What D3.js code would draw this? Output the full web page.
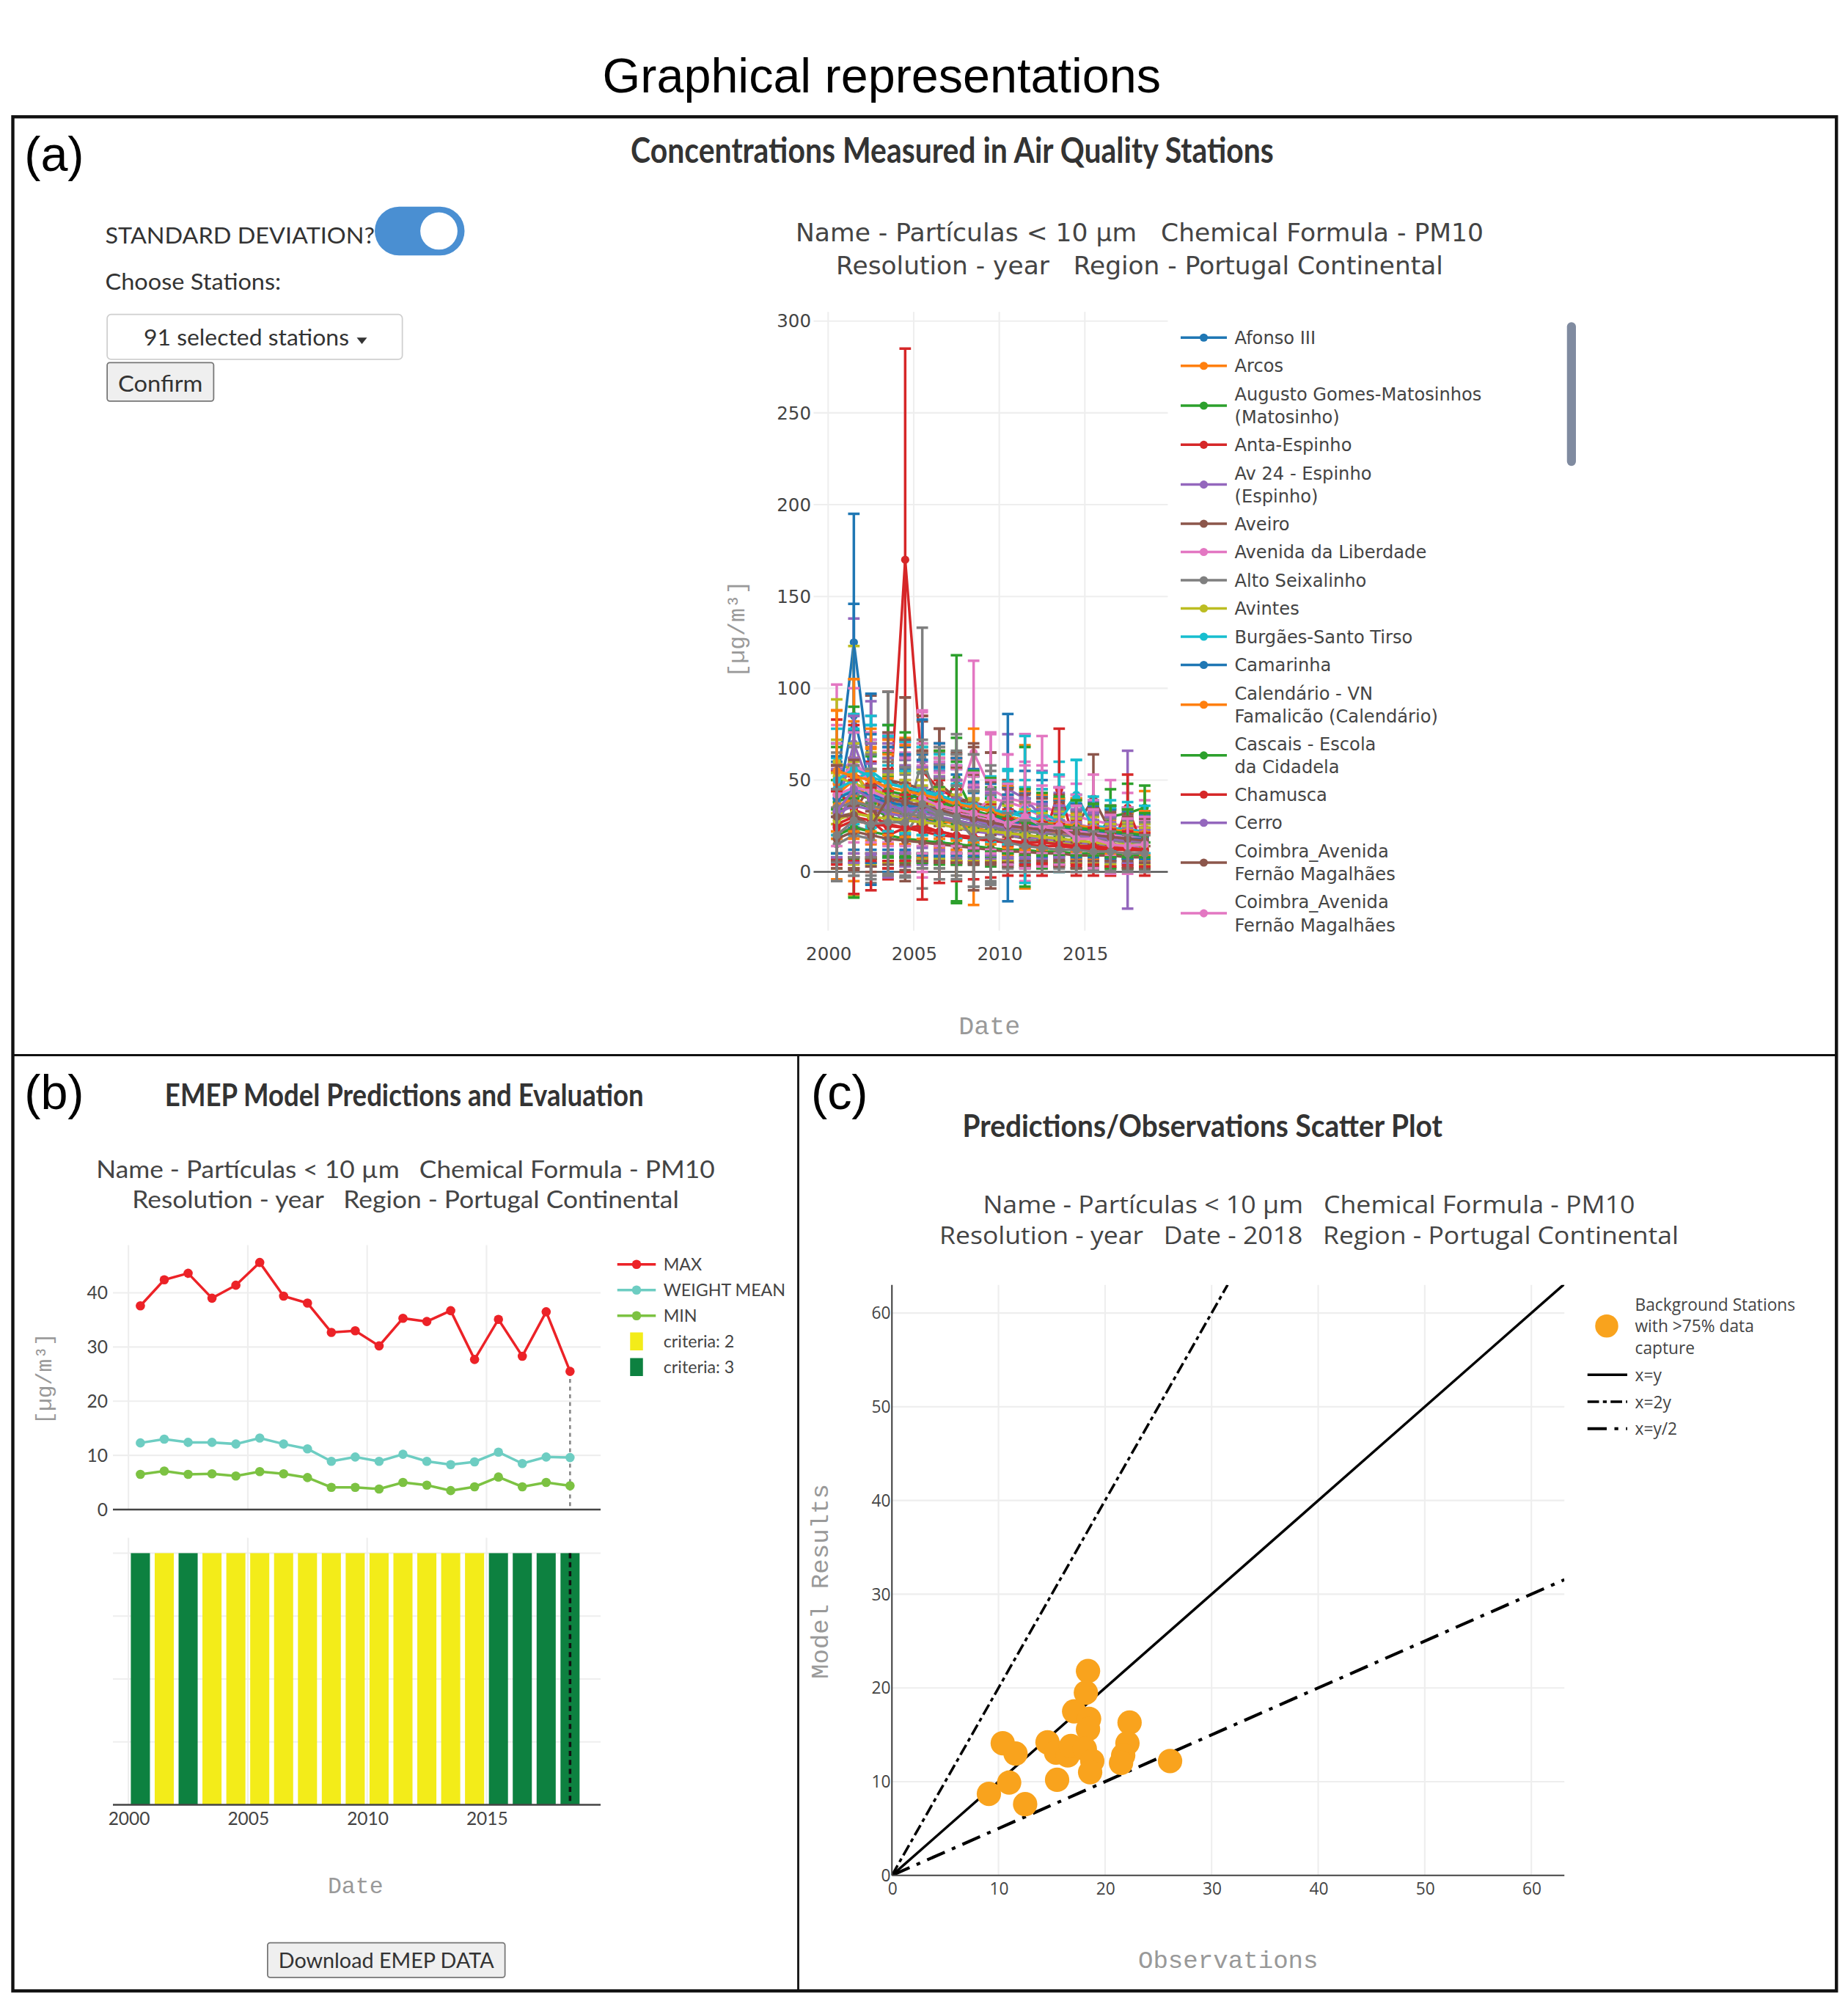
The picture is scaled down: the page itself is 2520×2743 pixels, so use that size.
<!DOCTYPE html>
<html><head><meta charset="utf-8">
<script src="https://cdn.jsdelivr.net/npm/d3@7/dist/d3.min.js"></script>
<style>
html,body{margin:0;padding:0;background:#fff;}
svg{display:block;}
text{white-space:pre;}
</style></head><body>
<svg id="c" width="2520" height="2743" viewBox="0 0 1440 1567.43"></svg>
<script>
// ---------------- DATA ----------------
const years = [2000,2001,2002,2003,2004,2005,2006,2007,2008,2009,2010,2011,2012,2013,2014,2015,2016,2017,2018];
const palette = ["#1f77b4","#ff7f0e","#2ca02c","#d62728","#9467bd","#8c564b","#e377c2","#7f7f7f","#bcbd22","#17becf"];

const stationNames = [
 "Afonso III","Arcos","Augusto Gomes-Matosinhos<br>(Matosinho)","Anta-Espinho","Av 24 - Espinho<br>(Espinho)",
 "Aveiro","Avenida da Liberdade","Alto Seixalinho","Avintes","Burgães-Santo Tirso","Camarinha",
 "Calendário - VN<br>Famalicão (Calendário)","Cascais - Escola<br>da Cidadela","Chamusca","Cerro",
 "Coimbra_Avenida<br>Fernão Magalhães","Coimbra_Avenida<br>Fernão Magalhães",
 "Coimbra_Instituto Geofísico","Custóias-Matosinhos","Entrecampos","Ermesinde-Valongo","Estarreja",
 "Fornelo do Monte","Fundão","Ílhavo","Lamas de Olo","Laranjeiro","Loures","Mem Martins",
 "Mouzinho de Albuquerque","Olivais","Paio Pires","Reboleira","Restelo","Santo Tirso","Sobreiras",
 "Teixugueira","Vermoim"
];
const stationMeans = [
 [45,125,50,42,38,40,36,33,30,28,26,25,24,22,20,19,18,17,18],
 [48,55,42,40,38,36,34,30,28,26,24,23,22,21,20,19,18,18,17],
 [38,42,40,37,35,33,30,51,32,28,26,25,24,22,21,20,19,18,17],
 [30,40,35,22,170,55,45,40,35,33,30,28,27,26,24,23,22,21,20],
 [33,70,45,40,36,38,35,30,28,25,45,40,30,25,22,20,18,23,20],
 [30,32,48,50,45,42,48,40,38,35,30,28,27,26,25,40,22,20,19],
 [55,60,50,45,40,42,38,36,65,45,40,38,36,32,30,28,26,25,24],
 [20,25,22,30,25,62,35,32,28,25,22,20,18,17,16,15,14,14,13],
 [60,55,40,35,32,30,28,26,24,22,20,18,17,16,15,14,13,13,12],
 [40,45,42,38,35,32,36,30,28,26,30,28,25,30,42,24,22,21,20],
 [35,85,45,40,38,36,34,32,30,28,35,30,28,26,24,22,21,20,19],
 [42,50,38,36,40,38,36,34,30,28,26,30,22,21,20,19,18,17,22],
 [30,38,35,30,28,30,26,28,26,24,22,30,19,18,17,16,30,32,35],
 [45,34,30,26,24,25,22,20,18,17,16,15,14,45,13,12,12,35,11],
 [25,45,48,35,33,32,30,28,26,24,22,20,19,18,17,16,15,14,13],
 [30,30,25,50,48,45,40,34,30,28,26,25,24,23,22,21,20,19,18],
 [50,58,48,42,40,44,36,34,32,40,38,35,30,28,26,24,22,21,20],
 [15,20,18,48,20,35,30,40,28,26,20,18,16,15,14,13,12,12,11],
 [52,48,45,42,40,38,36,34,32,30,28,26,24,22,21,20,19,18,17],
 [45,50,55,48,46,44,40,38,35,33,30,34,32,28,40,25,24,23,22],
 [40,44,42,40,38,45,42,38,34,30,28,26,25,24,23,22,21,20,19],
 [36,40,35,33,31,30,28,26,24,22,21,20,19,18,17,16,15,14,14],
 [20,24,22,20,18,17,16,15,14,13,12,12,11,11,10,10,10,9,9],
 [26,30,28,20,24,22,20,19,18,17,16,15,14,14,13,13,12,12,12],
 [32,36,34,32,30,28,26,24,22,21,20,19,18,17,16,15,15,14,14],
 [18,22,20,18,17,16,15,14,13,12,11,11,10,10,9,9,9,8,8],
 [42,46,44,40,38,36,34,32,30,28,26,25,24,23,22,21,20,19,18],
 [35,38,36,34,32,30,29,27,25,24,23,22,21,20,19,18,17,16,16],
 [28,32,30,29,28,27,26,24,23,22,21,20,19,18,17,16,15,15,14],
 [50,56,52,48,46,44,42,38,36,34,32,30,28,26,25,24,23,22,21],
 [null,null,40,38,36,35,33,31,29,27,25,24,23,22,21,20,19,18,18],
 [55,52,50,46,44,42,40,37,35,33,30,28,27,26,25,24,23,22,21],
 [null,null,null,44,42,40,38,35,33,31,29,27,26,25,24,23,22,21,20],
 [24,28,26,25,24,23,22,20,19,18,17,16,16,15,14,14,13,13,12],
 [33,45,40,36,34,35,32,30,28,26,24,24,22,22,20,19,18,17,17],
 [30,31,25,40,38,36,34,31,29,27,25,24,23,22,21,20,19,18,17],
 [null,null,null,null,null,40,36,34,32,30,26,30,25,25,18,18,15,14,15],
 [20,28,26,27,27,37,32,30,18,19,16,14,13,12,12,11,11,10,10]
];
const stationSD = [
 [15,70,30,20,18,16,15,14,13,12,12,11,10,10,9,8,8,8,8],
 [40,50,25,30,35,28,25,20,18,16,15,14,13,12,12,11,10,10,10],
 [30,35,30,28,26,24,22,67,20,18,16,15,14,13,12,12,11,11,10],
 [25,30,25,20,115,30,25,22,20,18,16,15,15,14,13,12,12,11,11],
 [25,68,40,30,25,28,24,20,18,16,30,35,25,18,14,12,12,43,12],
 [28,30,48,48,50,40,30,25,30,30,20,18,18,16,15,24,14,12,12],
 [47,40,35,30,30,45,30,25,50,30,24,22,38,20,18,25,24,18,15],
 [25,25,28,32,28,71,30,34,36,30,20,18,16,15,14,13,12,12,11],
 [34,68,30,25,22,20,18,16,15,14,12,12,11,10,10,9,9,9,8],
 [22,25,22,20,20,22,20,18,16,15,25,22,20,30,19,15,14,14,13],
 [28,61,52,40,30,28,26,24,22,20,51,25,22,20,18,16,15,15,14],
 [46,55,30,28,32,30,30,28,48,22,20,39,18,16,20,15,16,15,22],
 [20,52,28,22,20,24,20,45,18,16,15,38,14,13,12,12,15,16,12],
 [38,46,40,30,24,40,28,25,22,20,18,17,16,33,15,14,14,18,13],
 [20,40,45,38,30,28,25,22,22,20,18,16,15,14,13,12,12,11,10],
 [28,28,20,48,47,40,38,30,40,37,20,18,17,16,15,14,13,12,12],
 [30,28,28,26,25,44,24,22,20,36,26,40,28,18,16,15,14,14,13],
 [20,22,20,50,22,30,28,35,36,32,18,16,14,13,12,12,11,11,10],
 [20,22,20,20,18,18,16,16,14,14,13,12,12,11,10,10,10,9,9],
 [25,28,30,26,25,24,22,20,20,18,26,40,22,25,21,16,15,15,14],
 [30,32,30,28,26,38,28,24,22,20,18,17,16,15,14,14,13,13,12],
 [18,22,20,18,16,16,15,14,13,12,12,11,11,10,10,9,9,9,8],
 [14,16,15,14,13,12,12,11,10,10,9,9,9,8,8,8,8,7,7],
 [18,22,20,18,16,15,14,13,12,12,11,11,10,10,10,9,9,9,9],
 [24,26,25,22,20,18,17,16,15,14,13,12,12,11,11,10,10,10,9],
 [12,14,13,12,11,10,10,9,9,8,8,8,7,7,7,6,6,6,6],
 [28,30,28,26,24,22,20,18,17,16,15,14,14,13,12,12,11,11,10],
 [30,30,28,26,25,24,22,20,19,18,17,16,15,14,14,13,12,12,11],
 [26,28,26,24,22,20,19,18,17,16,15,14,13,12,12,11,11,10,10],
 [28,30,28,26,25,24,22,20,19,18,17,16,15,14,14,13,12,12,11],
 [null,null,35,30,28,26,24,22,20,18,17,16,15,14,13,12,12,11,11],
 [33,30,28,26,25,24,22,20,19,18,17,16,15,14,14,13,13,12,12],
 [null,null,null,36,34,30,28,25,22,20,19,18,17,16,15,14,14,13,12],
 [20,22,20,19,18,17,16,15,14,13,12,12,11,11,10,10,10,9,9],
 [25,40,30,26,24,22,20,20,18,17,16,16,15,14,14,13,12,12,12],
 [28,30,22,36,34,30,28,26,24,22,20,18,17,16,15,14,13,12,12],
 [null,null,null,null,null,30,26,24,22,20,22,28,22,21,18,16,16,15,15],
 [25,30,30,28,30,35,36,34,26,26,16,14,13,12,12,11,11,10,10]
];
const legendCountA = 17;
const yTicksA = [0,50,100,150,200,250,300];
const xTicksYears = [2000,2005,2010,2015];

const emepMax  = [37.6,42.4,43.6,39.0,41.4,45.6,39.4,38.1,32.7,33.0,30.2,35.3,34.7,36.7,27.7,35.1,28.3,36.5,25.5];
const emepMean = [12.3,13.0,12.4,12.4,12.1,13.2,12.1,11.2,8.9,9.7,8.9,10.2,8.9,8.3,8.8,10.6,8.5,9.7,9.6];
const emepMin  = [6.5,7.1,6.5,6.6,6.2,7.0,6.6,5.9,4.1,4.1,3.8,5.0,4.5,3.5,4.2,6.0,4.2,5.0,4.4];
const emepCriteria = [3,2,3,2,2,2,2,2,2,2,2,2,2,2,2,3,3,3,3];
const yTicksB = [0,10,20,30,40];
const barGridB = [0.25,0.5,0.75,1];

const scatterObs   = [9.1,10.4,11.6,11.0,12.5,14.6,15.4,15.5,16.5,16.8,17.1,18.4,18.2,18.5,18.4,18.1,18.8,18.6,22.3,22.1,21.7,21.5,26.1];
const scatterModel = [8.7,14.1,13.0,9.9,7.6,14.2,13.1,10.2,12.8,13.8,17.5,21.8,19.5,16.7,15.6,13.5,12.2,11.0,16.3,14.1,12.8,12.0,12.2];
const ticksC = [0,10,20,30,40,50,60];

// ---------------- HELPERS ----------------
const svg = d3.select("#c");
const F_UI = "Lato, 'Open Sans', sans-serif";
const F_A = "'DejaVu Sans', Verdana, sans-serif";
const F_C = "'Open Sans', 'DejaVu Sans', sans-serif";
const F_MONO = "'Liberation Mono', 'DejaVu Sans Mono', monospace";
const F_ARIAL = "'Liberation Sans', Arial, sans-serif";

function txt(g, s, x, y, o = {}) {
  const t = g.append("text").attr("x", x).attr("y", y).text(s)
    .attr("font-family", o.f || F_UI).attr("font-size", o.s || 14)
    .attr("fill", o.c || "#333").attr("text-anchor", o.a || "start");
  if (o.w) t.attr("font-weight", o.w);
  if (o.len) t.attr("textLength", o.len).attr("lengthAdjust", "spacingAndGlyphs");
  if (o.rot) t.attr("transform", `rotate(${o.rot},${x},${y})`);
  if (o.ls) t.attr("letter-spacing", o.ls);
  return t;
}
function styleAxis(g, font, size, color) {
  g.select(".domain").remove();
  g.selectAll("line").remove();
  g.selectAll("text").attr("font-family", font).attr("font-size", size).attr("fill", color);
}

// ---------------- FRAME ----------------
svg.append("rect").attr("width", 1440).attr("height", 1567.43).attr("fill", "#fff");
txt(svg, "Graphical representations", 687, 72, {f: F_ARIAL, s: 38, c: "#000", a: "middle"});
svg.append("rect").attr("x", 10).attr("y", 91).attr("width", 1421).attr("height", 1460)
  .attr("fill", "none").attr("stroke", "#111").attr("stroke-width", 2.5);
svg.append("line").attr("x1", 10).attr("x2", 1431).attr("y1", 822).attr("y2", 822).attr("stroke", "#111").attr("stroke-width", 1.6);
svg.append("line").attr("x1", 622).attr("x2", 622).attr("y1", 822).attr("y2", 1551).attr("stroke", "#111").attr("stroke-width", 1.6);
txt(svg, "(a)", 19, 133, {f: F_ARIAL, s: 38, c: "#000"});
txt(svg, "(b)", 19, 864, {f: F_ARIAL, s: 38, c: "#000"});
txt(svg, "(c)", 632, 864, {f: F_ARIAL, s: 38, c: "#000"});

// ---------------- PANEL A ----------------
const A = svg.append("g");
txt(A, "Concentrations Measured in Air Quality Stations", 742, 127, {s: 27, w: 700, c: "#333", a: "middle", len: 501});
txt(A, "STANDARD DEVIATION?", 82, 190, {s: 18, c: "#333", len: 210});
A.append("rect").attr("x", 292).attr("y", 161).attr("width", 70).attr("height", 38).attr("rx", 19).attr("fill", "#4a8fd2");
A.append("circle").attr("cx", 342).attr("cy", 180).attr("r", 14.5).attr("fill", "#fff");
txt(A, "Choose Stations:", 82, 226, {s: 18, c: "#333", len: 137});
A.append("rect").attr("x", 83.5).attr("y", 245).attr("width", 230).attr("height", 35).attr("rx", 3)
  .attr("fill", "#fff").attr("stroke", "#cfcfcf").attr("stroke-width", 1);
txt(A, "91 selected stations", 112, 269, {s: 18, c: "#333", len: 160});
A.append("path").attr("d", "M278,263 L286,263 L282,268 Z").attr("fill", "#333");
A.append("rect").attr("x", 83.5).attr("y", 282.5).attr("width", 83).attr("height", 30).attr("rx", 2)
  .attr("fill", "#efefef").attr("stroke", "#767676").attr("stroke-width", 1);
txt(A, "Confirm", 125, 305, {s: 18, c: "#333", a: "middle", len: 66});

txt(A, "Name - Partículas < 10 µm   Chemical Formula - PM10", 888, 188, {f: F_A, s: 19, c: "#444", a: "middle", len: 536});
txt(A, "Resolution - year   Region - Portugal Continental", 888, 214, {f: F_A, s: 19, c: "#444", a: "middle", len: 473});

const ax = d3.scaleLinear().domain([1999.15, 2019.85]).range([634, 910]);
const ay = d3.scaleLinear().domain([-32, 305]).range([725, 243]);

A.append("g").selectAll("line").data(xTicksYears).join("line")
  .attr("x1", d => ax(d)).attr("x2", d => ax(d)).attr("y1", ay.range()[1]).attr("y2", ay.range()[0])
  .attr("stroke", "#eee").attr("stroke-width", 1.2);
A.append("g").selectAll("line").data(yTicksA.filter(d => d !== 0)).join("line")
  .attr("x1", ax.range()[0]).attr("x2", ax.range()[1]).attr("y1", d => ay(d)).attr("y2", d => ay(d))
  .attr("stroke", "#eee").attr("stroke-width", 1.2);
A.append("line").attr("x1", ax.range()[0]).attr("x2", ax.range()[1]).attr("y1", ay(0)).attr("y2", ay(0))
  .attr("stroke", "#444").attr("stroke-width", 1.2);

const gyA = A.append("g").attr("transform", `translate(${ax.range()[0]},0)`)
  .call(d3.axisLeft(ay).tickValues(yTicksA).tickSize(0).tickPadding(2));
styleAxis(gyA, F_A, 14, "#444");
const gxA = A.append("g").attr("transform", `translate(0,${ay.range()[0]})`)
  .call(d3.axisBottom(ax).tickValues(xTicksYears).tickFormat(d3.format("d")).tickSize(0).tickPadding(13));
styleAxis(gxA, F_A, 14, "#444");

svg.append("defs").append("clipPath").attr("id", "clipA").append("rect")
  .attr("x", ax.range()[0]).attr("y", ay.range()[1]).attr("width", ax.range()[1] - ax.range()[0]).attr("height", ay.range()[0] - ay.range()[1]);
const plotA = A.append("g").attr("clip-path", "url(#clipA)");
const lineA = d3.line().defined(d => d.m != null).x(d => ax(d.x)).y(d => ay(d.m));
stationNames.forEach((name, i) => {
  const col = palette[i % 10];
  const pts = years.map((yr, j) => ({x: yr + 0.5, m: stationMeans[i][j], s: stationSD[i][j]}));
  const valid = pts.filter(d => d.m != null);
  const g = plotA.append("g");
  g.append("path").datum(pts).attr("d", lineA).attr("fill", "none").attr("stroke", col).attr("stroke-width", 2);
  const eb = g.append("g").attr("stroke", col).attr("stroke-width", 2);
  eb.selectAll("line.v").data(valid).join("line").attr("class", "v")
    .attr("x1", d => ax(d.x)).attr("x2", d => ax(d.x)).attr("y1", d => ay(d.m - d.s)).attr("y2", d => ay(d.m + d.s));
  eb.selectAll("line.t").data(valid).join("line").attr("class", "t")
    .attr("x1", d => ax(d.x) - 4.5).attr("x2", d => ax(d.x) + 4.5).attr("y1", d => ay(d.m + d.s)).attr("y2", d => ay(d.m + d.s));
  eb.selectAll("line.b").data(valid).join("line").attr("class", "b")
    .attr("x1", d => ax(d.x) - 4.5).attr("x2", d => ax(d.x) + 4.5).attr("y1", d => ay(d.m - d.s)).attr("y2", d => ay(d.m - d.s));
  g.selectAll("circle").data(valid).join("circle").attr("cx", d => ax(d.x)).attr("cy", d => ay(d.m)).attr("r", 3.2).attr("fill", col);
});

txt(A, "[µg/m³]", 580, 490, {f: F_MONO, s: 18, c: "#999", a: "middle", rot: -90});
txt(A, "Date", 771, 806, {f: F_MONO, s: 20, c: "#999", a: "middle"});

// legend A
const legA = A.append("g");
let ly = 263;
stationNames.slice(0, legendCountA).forEach((name, i) => {
  const lines = name.split("<br>");
  const col = palette[i % 10];
  const top = ly, mid = top + (lines.length - 1) * 9;
  legA.append("line").attr("x1", 920).attr("x2", 956).attr("y1", mid).attr("y2", mid).attr("stroke", col).attr("stroke-width", 2);
  legA.append("circle").attr("cx", 938).attr("cy", mid).attr("r", 3.2).attr("fill", col);
  lines.forEach((ln, k) => txt(legA, ln, 962, top + k * 18 + 5, {f: F_A, s: 13.8, c: "#444"}));
  ly = top + (lines.length - 1) * 18 + 22;
  if (lines.length > 1 && i < legendCountA - 1) ly -= 0.5;
});
A.append("rect").attr("x", 1221).attr("y", 251).attr("width", 7).attr("height", 112).attr("rx", 3.5).attr("fill", "#808ba0");

// ---------------- PANEL B ----------------
const B = svg.append("g");
txt(B, "EMEP Model Predictions and Evaluation", 315, 862, {s: 24, w: 700, c: "#333", a: "middle", len: 373});
txt(B, "Name - Partículas < 10 µm   Chemical Formula - PM10", 316, 918, {s: 18.5, c: "#444", a: "middle", len: 482});
txt(B, "Resolution - year   Region - Portugal Continental", 316, 941, {s: 18.5, c: "#444", a: "middle", len: 426});

const bx = d3.scaleLinear().domain([1999.35, 2019.78]).range([88, 468]);
const by = d3.scaleLinear().domain([0, 48.8]).range([1176, 970]);
const bb = d3.scaleLinear().domain([0, 1.061]).range([1406, 1198]);

B.append("g").selectAll("line").data(xTicksYears).join("line")
  .attr("x1", d => bx(d)).attr("x2", d => bx(d)).attr("y1", by.range()[1]).attr("y2", by.range()[0])
  .attr("stroke", "#eee").attr("stroke-width", 1.2);
B.append("g").selectAll("line").data(yTicksB.filter(d => d > 0)).join("line")
  .attr("x1", bx.range()[0]).attr("x2", bx.range()[1]).attr("y1", d => by(d)).attr("y2", d => by(d))
  .attr("stroke", "#eee").attr("stroke-width", 1.2);
const gyB = B.append("g").attr("transform", `translate(${bx.range()[0] - 2},0)`)
  .call(d3.axisLeft(by).tickValues(yTicksB).tickSize(0).tickPadding(2));
styleAxis(gyB, F_UI, 14, "#444");

const lastX = years[years.length - 1] + 0.5;
B.append("line").attr("x1", bx(lastX)).attr("x2", bx(lastX)).attr("y1", by(emepMax[emepMax.length - 1])).attr("y2", by(0))
  .attr("stroke", "#888").attr("stroke-width", 1.5).attr("stroke-dasharray", "3,3");
B.append("line").attr("x1", bx.range()[0]).attr("x2", bx.range()[1]).attr("y1", by(0)).attr("y2", by(0))
  .attr("stroke", "#444").attr("stroke-width", 1.5);

const seriesB = [
  {name: "MAX", vals: emepMax, col: "#ec2227"},
  {name: "WEIGHT MEAN", vals: emepMean, col: "#6dcdc2"},
  {name: "MIN", vals: emepMin, col: "#7cc242"}
];
const lineB = d3.line().x(d => bx(d.x)).y(d => by(d.v));
seriesB.forEach(s => {
  const pts = years.map((yr, j) => ({x: yr + 0.5, v: s.vals[j]}));
  B.append("path").datum(pts).attr("d", lineB).attr("fill", "none").attr("stroke", s.col).attr("stroke-width", 2);
  B.append("g").selectAll("circle").data(pts).join("circle").attr("cx", d => bx(d.x)).attr("cy", d => by(d.v)).attr("r", 3.6).attr("fill", s.col);
});

B.append("g").selectAll("line").data(xTicksYears).join("line")
  .attr("x1", d => bx(d)).attr("x2", d => bx(d)).attr("y1", bb.range()[1]).attr("y2", bb.range()[0])
  .attr("stroke", "#eee").attr("stroke-width", 1.2);
B.append("g").selectAll("line").data(barGridB).join("line")
  .attr("x1", bx.range()[0]).attr("x2", bx.range()[1]).attr("y1", d => bb(d)).attr("y2", d => bb(d))
  .attr("stroke", "#eee").attr("stroke-width", 1.2);
const critCol = {2: "#f3ec19", 3: "#0d8140"};
B.append("g").selectAll("rect").data(years.map((yr, j) => ({x: yr + 0.5, c: emepCriteria[j]}))).join("rect")
  .attr("x", d => bx(d.x - 0.4)).attr("width", d => bx(d.x + 0.4) - bx(d.x - 0.4))
  .attr("y", bb(1)).attr("height", bb(0) - bb(1)).attr("fill", d => critCol[d.c]);
B.append("line").attr("x1", bx(lastX)).attr("x2", bx(lastX)).attr("y1", bb(1)).attr("y2", bb(0))
  .attr("stroke", "#111").attr("stroke-width", 2).attr("stroke-dasharray", "4,3");
B.append("line").attr("x1", bx.range()[0]).attr("x2", bx.range()[1]).attr("y1", bb(0)).attr("y2", bb(0))
  .attr("stroke", "#444").attr("stroke-width", 1.5);
const gxB = B.append("g").attr("transform", `translate(0,${bb(0)})`)
  .call(d3.axisBottom(bx).tickValues(xTicksYears).tickFormat(d3.format("d")).tickSize(0).tickPadding(6));
styleAxis(gxB, F_UI, 14, "#444");

txt(B, "[µg/m³]", 40, 1074, {f: F_MONO, s: 17, c: "#999", a: "middle", rot: -90});
txt(B, "Date", 277, 1475, {f: F_MONO, s: 18, c: "#999", a: "middle"});

const legB = B.append("g");
seriesB.forEach((s, k) => {
  const y = 985 + k * 20;
  legB.append("line").attr("x1", 481).attr("x2", 511).attr("y1", y).attr("y2", y).attr("stroke", s.col).attr("stroke-width", 2);
  legB.append("circle").attr("cx", 496).attr("cy", y).attr("r", 3.6).attr("fill", s.col);
  txt(legB, s.name, 517, y + 5, {s: 13.3, c: "#444"});
});
[2, 3].forEach((c, k) => {
  const y = 1045 + k * 20;
  legB.append("rect").attr("x", 491).attr("y", y - 7).attr("width", 10).attr("height", 14).attr("fill", critCol[c]);
  txt(legB, "criteria: " + c, 517, y + 5, {s: 13.3, c: "#444"});
});

B.append("rect").attr("x", 208.5).attr("y", 1513.5).attr("width", 185).attr("height", 27).attr("rx", 2)
  .attr("fill", "#efefef").attr("stroke", "#767676").attr("stroke-width", 1);
txt(B, "Download EMEP DATA", 301, 1533, {s: 16.5, c: "#333", a: "middle", len: 168});

// ---------------- PANEL C ----------------
const C = svg.append("g");
txt(C, "Predictions/Observations Scatter Plot", 937, 886, {s: 24, w: 700, c: "#333", a: "middle", len: 374});
txt(C, "Name - Partículas < 10 µm   Chemical Formula - PM10", 1020, 945, {f: F_C, s: 19, c: "#444", a: "middle", len: 508});
txt(C, "Resolution - year   Date - 2018   Region - Portugal Continental", 1020, 969, {f: F_C, s: 19, c: "#444", a: "middle", len: 576});

const cx = d3.scaleLinear().domain([0, 63.1]).range([695, 1219]);
const cy = d3.scaleLinear().domain([0, 63]).range([1461, 1001]);

C.append("g").selectAll("line").data(ticksC.filter(d => d > 0)).join("line")
  .attr("x1", d => cx(d)).attr("x2", d => cx(d)).attr("y1", cy.range()[1]).attr("y2", cy.range()[0])
  .attr("stroke", "#eee").attr("stroke-width", 1.2);
C.append("g").selectAll("line").data(ticksC.filter(d => d > 0)).join("line")
  .attr("x1", cx.range()[0]).attr("x2", cx.range()[1]).attr("y1", d => cy(d)).attr("y2", d => cy(d))
  .attr("stroke", "#eee").attr("stroke-width", 1.2);

svg.select("defs").append("clipPath").attr("id", "clipC").append("rect")
  .attr("x", cx.range()[0]).attr("y", cy.range()[1]).attr("width", cx.range()[1] - cx.range()[0]).attr("height", cy.range()[0] - cy.range()[1]);
const plotC = C.append("g").attr("clip-path", "url(#clipC)");
const refLines = [
  {name: "x=y", k: 1, dash: null, w: 2},
  {name: "x=2y", k: 2, dash: "9,3,3,3", w: 2},
  {name: "x=y/2", k: 0.5, dash: "15,6,3,6", w: 2.4}
];
const lineC = d3.line().x(d => cx(d[0])).y(d => cy(d[1]));
refLines.forEach(r => {
  const xEnd = r.k > 1 ? 63 / r.k : 63.1;
  const p = plotC.append("path").datum([[0, 0], [xEnd, xEnd * r.k]]).attr("d", lineC)
    .attr("fill", "none").attr("stroke", "#000").attr("stroke-width", r.w);
  if (r.dash) p.attr("stroke-dasharray", r.dash);
});
plotC.append("g").selectAll("circle").data(scatterObs.map((o, i) => [o, scatterModel[i]])).join("circle")
  .attr("cx", d => cx(d[0])).attr("cy", d => cy(d[1])).attr("r", 9.5).attr("fill", "#f9a31d");

C.append("line").attr("x1", cx(0)).attr("x2", cx(0)).attr("y1", cy.range()[1]).attr("y2", cy.range()[0]).attr("stroke", "#444").attr("stroke-width", 1.2);
C.append("line").attr("x1", cx.range()[0]).attr("x2", cx.range()[1]).attr("y1", cy(0)).attr("y2", cy(0)).attr("stroke", "#444").attr("stroke-width", 1.2);
const gyC = C.append("g").attr("transform", `translate(${cx(0)},0)`)
  .call(d3.axisLeft(cy).tickValues(ticksC).tickSize(0).tickPadding(1));
styleAxis(gyC, F_C, 13, "#444");
gyC.selectAll("text").attr("x", -1);
const gxC = C.append("g").attr("transform", `translate(0,${cy(0)})`)
  .call(d3.axisBottom(cx).tickValues(ticksC).tickSize(0).tickPadding(6));
styleAxis(gxC, F_C, 13, "#444");

txt(C, "Model Results", 645, 1232, {f: F_MONO, s: 19.5, c: "#999", a: "middle", rot: -90});
txt(C, "Observations", 957, 1533, {f: F_MONO, s: 19.5, c: "#999", a: "middle"});

const legC = C.append("g");
legC.append("circle").attr("cx", 1252).attr("cy", 1033).attr("r", 9).attr("fill", "#f9a31d");
["Background Stations", "with >75% data", "capture"].forEach((s, k) => txt(legC, s, 1274, 1021 + k * 17, {f: F_C, s: 13, c: "#444"}));
refLines.forEach((r, k) => {
  const y = 1071 + k * 21;
  const l = legC.append("line").attr("x1", 1237).attr("x2", 1268).attr("y1", y).attr("y2", y).attr("stroke", "#000").attr("stroke-width", r.w);
  if (r.dash) l.attr("stroke-dasharray", r.dash);
  txt(legC, r.name, 1274, y + 5, {f: F_C, s: 13, c: "#444"});
});
</script>
</body></html>
